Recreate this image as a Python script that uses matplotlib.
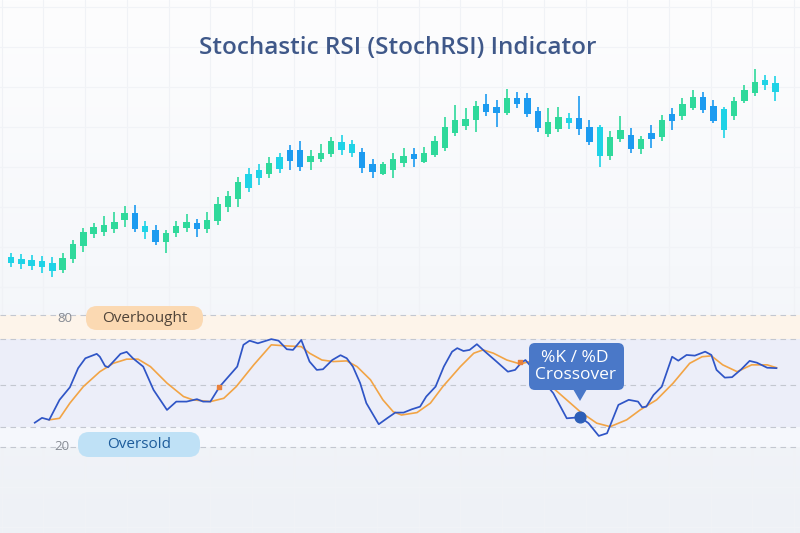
import numpy as np
import matplotlib.pyplot as plt
from matplotlib.patches import FancyBboxPatch, Polygon

plt.rcParams['font.family'] = ['Open Sans', 'DejaVu Sans']

# Candles (price units)
opens = [21.4, 20.5, 20.0, 19.5, 18.7, 15.0, 20.4, 27.2, 33.0, 34.2, 35.5, 40.0, 43.7, 37.2, 34.9,
         28.9, 33.4, 35.9, 38.5, 35.4, 39.5, 46.4, 50.4, 56.2, 60.9, 63.0, 65.5, 74.9, 75.0, 69.0,
         70.4, 73.0, 75.0, 77.9, 73.9, 67.9, 63.0, 65.0, 68.4, 72.9, 69.2, 72.5, 75.9, 83.7, 87.0,
         90.0, 97.9, 96.7, 93.7, 101.2, 101.2, 94.7, 83.0, 85.5, 91.2, 90.9, 86.4, 86.4, 72.0, 80.5,
         82.4, 75.4, 83.4, 81.4, 93.2, 92.0, 96.2, 101.7, 97.2, 95.4, 92.0, 99.5, 103.4, 107.5, 108.4]
closes = [18.7, 18.0, 17.2, 16.4, 14.7, 21.0, 27.9, 33.9, 36.4, 37.7, 38.9, 43.7, 35.7, 34.2, 29.2,
          33.5, 37.0, 38.9, 35.4, 39.9, 47.9, 52.0, 59.2, 62.9, 65.0, 68.4, 71.7, 69.7, 66.4, 72.2,
          73.7, 79.4, 79.2, 73.4, 65.9, 64.2, 67.9, 70.5, 71.9, 70.5, 73.4, 79.5, 86.4, 89.9, 90.7,
          97.0, 94.2, 93.7, 100.9, 97.9, 92.9, 85.9, 89.0, 91.7, 88.7, 85.4, 79.2, 72.0, 81.5, 85.0,
          75.7, 80.7, 80.5, 90.0, 89.5, 98.2, 101.4, 95.0, 89.5, 85.0, 99.7, 105.0, 109.2, 110.0, 103.9]
highs = [23.7, 23.0, 22.5, 22.0, 21.7, 23.7, 30.0, 35.9, 38.4, 42.0, 44.0, 47.0, 47.4, 39.5, 37.4,
         35.0, 39.7, 43.0, 40.4, 44.0, 51.7, 54.7, 61.7, 66.2, 68.0, 71.4, 73.4, 77.5, 79.5, 75.0,
         78.0, 81.7, 82.5, 80.0, 76.2, 70.5, 69.2, 73.7, 75.9, 76.2, 76.4, 82.0, 91.7, 97.5, 96.2,
         99.5, 102.9, 100.0, 105.4, 104.0, 103.4, 96.7, 96.2, 96.7, 93.7, 102.2, 90.0, 87.5, 84.5, 92.0,
         85.9, 82.0, 87.5, 92.5, 96.2, 100.9, 105.0, 104.2, 100.0, 96.7, 101.7, 107.5, 115.4, 112.5, 112.0]
lows = [16.4, 15.5, 15.0, 13.7, 11.7, 13.4, 18.7, 24.2, 30.9, 32.2, 33.4, 36.7, 34.2, 30.5, 27.5,
        23.4, 31.7, 34.2, 31.7, 33.7, 37.5, 44.0, 46.7, 54.2, 57.5, 60.9, 63.4, 65.0, 64.7, 65.0,
        69.2, 71.7, 72.5, 71.7, 63.4, 60.9, 62.5, 61.2, 66.7, 66.7, 68.4, 71.4, 74.7, 82.0, 85.0,
        84.2, 92.0, 86.7, 92.5, 96.0, 91.4, 84.2, 81.4, 84.2, 85.4, 82.5, 77.5, 66.4, 70.0, 79.2,
        73.4, 72.9, 75.9, 79.5, 85.0, 90.0, 95.0, 93.4, 88.4, 80.9, 90.0, 98.4, 102.2, 105.0, 99.7]
cyan_candles = [0, 1, 2, 3, 4, 13, 23, 24, 26, 32, 33, 54, 57, 69, 73, 74]

# StochRSI %K and %D (x in candle index units)
k_x = [2.3, 3.0, 3.7, 4.7, 5.7, 6.5, 7.2, 8.3, 8.6, 9.1, 9.4, 10.6, 11.2, 11.8, 12.8, 13.8, 15.1,
       16.0, 17.0, 18.0, 18.6, 19.3, 20.2, 21.9, 22.5, 23.1, 23.9, 25.2, 25.9, 26.7, 27.3, 28.1,
       28.9, 29.6, 30.2, 31.1, 31.9, 32.5, 33.1, 33.8, 34.4, 35.6, 36.4, 37.2, 38.0, 38.8, 39.6,
       40.2, 41.1, 41.9, 42.7, 43.2, 43.8, 44.4, 45.1, 45.7, 47.0, 48.1, 48.8, 49.4, 49.8, 50.2,
       52.5, 53.8, 55.1, 55.9, 56.9, 57.7, 58.8, 59.8, 60.7, 61.1, 61.5, 62.2, 63.0, 64.0, 64.6,
       65.4, 66.2, 67.2, 67.8, 68.3, 69.1, 69.8, 70.7, 71.5, 72.2, 73.2, 74.1]
k_val = [31.0, 33.2, 32.3, 41.4, 47.1, 55.8, 60.3, 62.3, 61.0, 56.8, 56.2, 62.3, 63.2, 60.3, 56.5,
         45.9, 36.8, 40.6, 40.6, 41.7, 40.6, 40.6, 47.4, 56.5, 66.4, 68.3, 67.1, 69.0, 68.3, 64.4,
         64.1, 68.6, 58.8, 55.0, 55.3, 59.5, 61.7, 60.3, 56.5, 49.0, 39.9, 30.3, 33.0, 35.6, 35.6,
         37.1, 38.3, 42.9, 47.4, 56.5, 63.3, 64.9, 63.6, 64.1, 66.7, 64.1, 58.8, 54.2, 55.0, 58.3,
         59.5, 57.3, 44.4, 33.0, 33.5, 30.8, 25.0, 26.2, 39.1, 41.4, 40.6, 38.0, 38.3, 43.6, 47.4,
         61.0, 59.2, 61.8, 61.5, 63.3, 61.8, 55.0, 51.5, 51.7, 55.3, 59.1, 58.3, 56.0, 55.8]
d_x = [3.7, 4.7, 5.7, 7.0, 8.6, 9.9, 11.2, 12.3, 13.5, 15.1, 16.7, 17.6, 19.3, 20.6, 21.8, 23.5,
       25.2, 26.7, 28.1, 28.9, 30.1, 31.2, 32.5, 33.5, 34.8, 36.0, 37.0, 37.8, 39.3, 40.6, 41.8,
       43.5, 44.8, 45.7, 46.7, 48.0, 49.3, 50.2, 52.5, 55.1, 56.7, 58.0, 59.6, 60.9, 62.5, 64.1,
       65.7, 66.9, 67.8, 68.9, 70.3, 71.7, 73.2, 74.1]
d_val = [32.3, 33.0, 39.9, 47.4, 54.2, 58.0, 59.9, 59.9, 56.5, 49.0, 42.9, 41.4, 40.6, 42.1, 47.4,
         57.3, 66.4, 65.9, 65.6, 62.6, 59.5, 58.8, 59.1, 56.5, 50.5, 41.4, 36.0, 34.5, 35.6, 39.9,
         47.4, 56.5, 62.6, 64.1, 62.6, 59.5, 57.7, 58.8, 46.7, 36.0, 30.8, 29.2, 32.3, 36.8, 41.4,
         49.0, 58.0, 61.0, 61.4, 57.3, 54.2, 57.3, 57.3, 56.0]
levels = [80, 69, 48, 29, 20]
cross_marks_x = [20.1, 49.3]
cross_marks_y = [47.1, 58.8]
crossover = (55.1, 33.5)

GREEN, BLUE, CYAN = '#2fd99b', '#1c9bf0', '#1fd3e6'

fig = plt.figure(figsize=(8, 5.33), dpi=100)

# background gradient + faint grid
bg = fig.add_axes([0, 0, 1, 1], zorder=-5)
grad = np.linspace(0, 1, 256)[:, None]
bg.imshow(grad, cmap=plt.matplotlib.colors.LinearSegmentedColormap.from_list(
    'bg', ['#fdfdfe', '#f6f8fb', '#eef1f6']), aspect='auto', extent=(0, 800, 533, 0))
for gx in np.arange(1.7, 800, 41.7):
    bg.axvline(gx, color='#f0f2f6', lw=0.8)
for gy in np.arange(7, 533, 40):
    bg.axhline(gy, color='#f1f3f7', lw=0.8)
bg.set_xlim(0, 800)
bg.set_ylim(533, 0)
bg.axis('off')

# candles
ax = fig.add_axes([0, 0.456, 1, 0.4315])
ax.patch.set_alpha(0)
xs = np.arange(len(opens))
cols = []
for i in xs:
    if i in cyan_candles:
        cols.append(CYAN)
    elif closes[i] >= opens[i]:
        cols.append(GREEN)
    else:
        cols.append(BLUE)
ax.vlines(xs, lows, highs, colors=cols, lw=1.2)
ax.bar(xs, np.abs(np.array(closes) - np.array(opens)), bottom=np.minimum(opens, closes),
       width=0.62, color=cols)
ax.set_xlim(-1.065, 76.38)
ax.set_ylim(5, 120)
ax.axis('off')

# oscillator
ao = fig.add_axes([0, 0.1182, 1, 0.319])
ao.patch.set_alpha(0)
ao.axhspan(69, 80, color='#fdf4ea', lw=0)
ao.axhspan(29, 69, color='#eceef9', lw=0)
ao.axhspan(20, 29, color='#f5f7fc', lw=0)
for lv in levels:
    ao.axhline(lv, color='#c3c7d0', lw=0.8, ls=(0, (5, 4)))
ao.plot(d_x, d_val, color='#f2a445', lw=1.2, zorder=3)
ao.plot(k_x, k_val, color='#2f55c6', lw=1.25, zorder=4)
ao.scatter(cross_marks_x, cross_marks_y, marker='s', s=10, color='#e8803c', zorder=5)
ao.set_xlim(-1.065, 76.38)
ao.set_ylim(9.5, 86.8)
ao.axis('off')

# overlay in pixel units
ov = fig.add_axes([0, 0, 1, 1], zorder=5)
ov.set_xlim(0, 800)
ov.set_ylim(533, 0)
ov.axis('off')

ov.text(398, 48, 'Stochastic RSI (StochRSI) Indicator', ha='center', va='center',
        fontsize=17.5, fontweight='semibold', color='#3f5889')

ov.text(65, 318, '80', ha='center', va='center', fontsize=9.5, color='#868b94')
ov.text(62, 447, '20', ha='center', va='center', fontsize=9.5, color='#868b94')
ov.add_patch(FancyBboxPatch((86, 306), 117, 24, boxstyle='round,pad=0,rounding_size=11',
                            fc='#fbd9b2', ec='none'))
ov.text(144.5, 318, 'Overbought', ha='center', va='center', fontsize=11, color='#4f4439')
ov.add_patch(FancyBboxPatch((78, 432), 122, 25, boxstyle='round,pad=0,rounding_size=11',
                            fc='#bfe1f6', ec='none'))
ov.text(139, 444.5, 'Oversold', ha='center', va='center', fontsize=11, color='#1d5c9b')

# crossover callout
ov.add_patch(FancyBboxPatch((529, 343), 95, 47, boxstyle='round,pad=0,rounding_size=6',
                            fc='#4a78c8', ec='none'))
ov.add_patch(Polygon([(573, 389), (587, 389), (580, 401)], closed=True, fc='#4a78c8', ec='none'))
ov.text(575, 366.5, '%K / %D\nCrossover', ha='center', va='center', fontsize=12.5,
        color='white', linespacing=1.15)
ao.scatter([crossover[0]], [crossover[1]], s=60, color='#2d5fb8', zorder=6)

fig.savefig('out.png', dpi=100)
